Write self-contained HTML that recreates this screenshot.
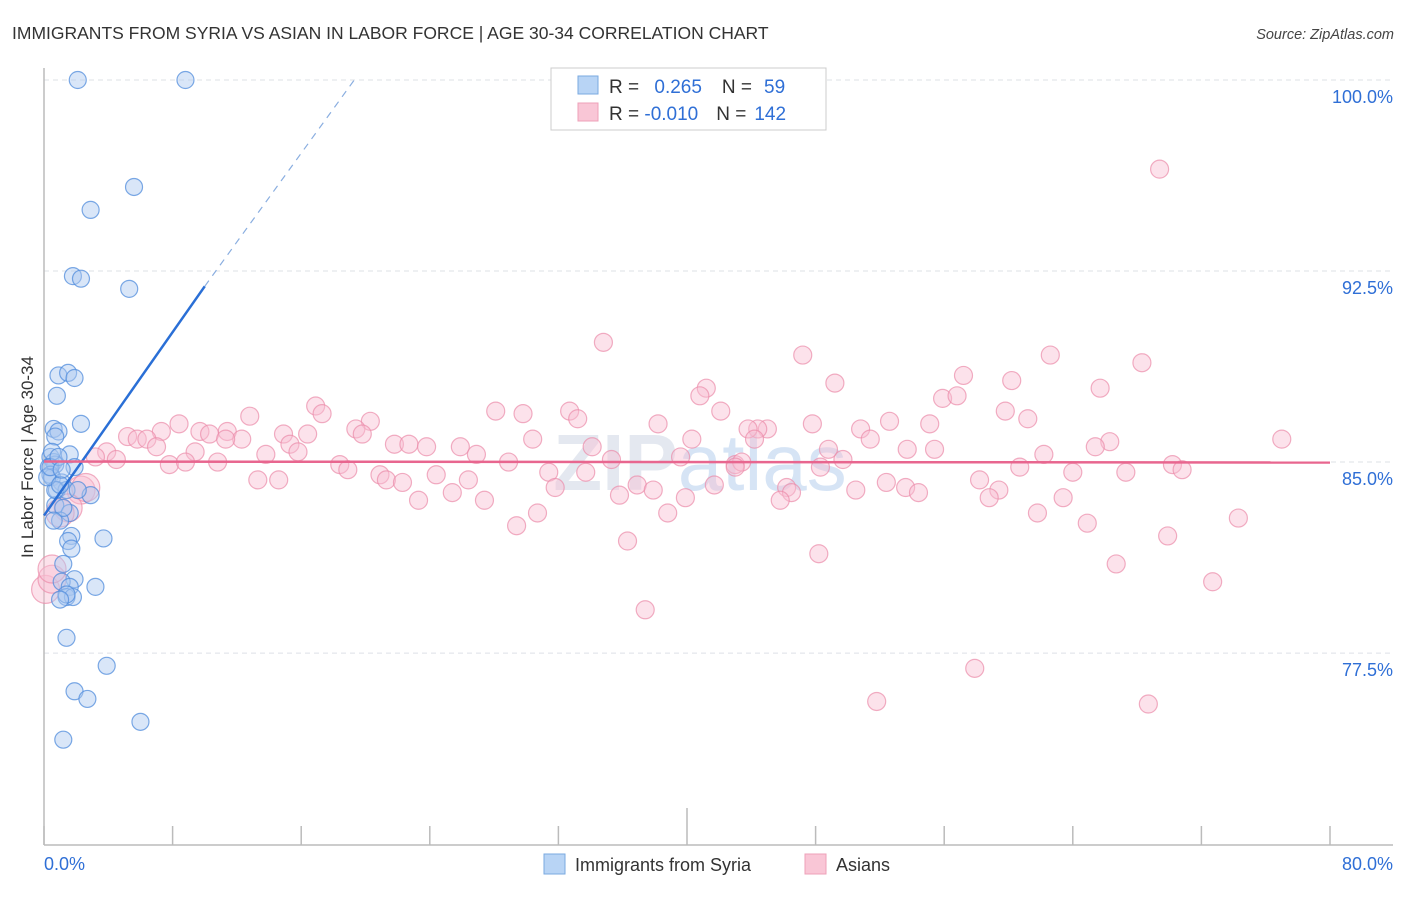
<!DOCTYPE html>
<html><head><meta charset="utf-8"><style>
body{margin:0;background:#fff;font-family:"Liberation Sans",sans-serif}
svg text{font-family:"Liberation Sans",sans-serif}
</style></head><body>
<svg id="chart" width="1406" height="892" viewBox="0 0 1406 892" xmlns="http://www.w3.org/2000/svg">
<text x="12" y="39" font-size="17.5" fill="#333">IMMIGRANTS FROM SYRIA VS ASIAN IN LABOR FORCE | AGE 30-34 CORRELATION CHART</text>
<text x="1394" y="39" font-size="14.5" fill="#444" font-style="italic" text-anchor="end">Source: ZipAtlas.com</text>
<text x="700" y="490" font-size="80" fill="#e4e8f0" text-anchor="middle" font-weight="bold" font-family="Liberation Serif">ZIP<tspan fill="#d6e4f5" font-family="Liberation Sans" font-weight="normal">atlas</tspan></text>
<g id="grid"></g>
<g id="axes"></g>
<g id="pts"></g>
<g id="trend"></g>
<text transform="translate(33,457) rotate(-90)" font-size="17" fill="#333" text-anchor="middle">In Labor Force | Age 30-34</text>
<g>
<rect x="551" y="68" width="275" height="62" fill="#fff" stroke="#ccc"/>
<rect x="578" y="76" width="20" height="18" fill="#b8d4f5" stroke="#7aaae0"/>
<rect x="578" y="103" width="20" height="18" fill="#f9c6d6" stroke="#eea0b8"/>
<text x="609" y="93" font-size="19" fill="#333">R = <tspan fill="#2f6fd6" dx="10">0.265</tspan><tspan dx="20" fill="#333">N =</tspan><tspan dx="12" fill="#2f6fd6">59</tspan></text>
<text x="609" y="120" font-size="19" fill="#333">R = <tspan fill="#2f6fd6">-0.010</tspan><tspan dx="18" fill="#333">N =</tspan><tspan dx="8" fill="#2f6fd6">142</tspan></text>
</g>
<g>
<rect x="544" y="854" width="21" height="20" fill="#b8d4f5" stroke="#7aaae0"/>
<text x="575" y="871" font-size="18" fill="#333">Immigrants from Syria</text>
<rect x="805" y="854" width="21" height="20" fill="#f9c6d6" stroke="#eea0b8"/>
<text x="836" y="871" font-size="18" fill="#333">Asians</text>
</g>
</svg>
<script>
const yTicks=[100,92.5,85,77.5];
const yTickLabels=["100.0%","92.5%","85.0%","77.5%"];
const xTicks=[0,8,16,24,32,40,48,56,64,72,80];
const xEndLabels=["0.0%","80.0%"];
const blueX=[2.1,8.8,5.6,2.9,1.8,2.3,5.3,0.9,1.5,1.9,0.8,2.3,0.6,0.9,0.7,1.6,0.4,0.6,0.7,0.3,0.4,0.5,1.1,1.9,0.8,1.4,2.9,0.7,1.6,1.0,1.7,1.5,3.7,1.2,1.9,1.1,1.6,3.2,1.4,1.8,1.4,3.9,1.9,2.7,6.0,1.2,0.7,0.2,0.5,1.0,1.2,1.4,0.4,0.9,1.1,1.7,0.6,1.0,2.1];
const blueY=[100,100,95.8,94.9,92.3,92.2,91.8,88.4,88.5,88.3,87.6,86.5,86.3,86.2,86.0,85.3,85.2,85.0,84.9,84.8,84.5,84.4,84.2,84.8,83.9,83.9,83.7,83.3,83.0,82.7,82.1,81.9,82.0,81.0,80.4,80.3,80.1,80.1,79.7,79.7,78.1,77.0,76.0,75.7,74.8,74.1,83.9,84.4,85.4,84.1,83.2,79.8,84.8,85.2,84.7,81.6,82.7,79.6,83.9];
const pinkX=[69.4,34.8,47.2,62.6,68.3,49.2,57.2,60.2,41.2,65.7,55.9,56.8,40.8,16.9,28.1,29.8,32.7,42.1,59.8,12.8,17.3,33.2,8.4,38.2,47.8,52.6,61.2,20.3,19.4,45.0,44.4,43.8,50.8,55.1,11.4,9.7,10.3,7.3,5.2,5.8,6.4,7.0,14.9,16.4,19.8,12.3,11.3,51.4,30.4,40.3,44.2,77.0,66.3,15.3,15.8,21.8,22.7,23.8,25.9,26.9,34.1,48.8,53.7,55.4,65.4,62.2,3.9,3.2,4.5,13.8,9.4,10.8,7.8,8.8,18.4,18.9,28.9,35.3,39.6,43.0,43.4,49.7,43.0,20.9,21.3,22.3,24.4,31.4,33.7,48.3,60.7,64.0,67.3,70.2,70.8,13.3,14.6,26.4,25.4,23.3,27.4,31.8,36.9,37.9,35.8,39.9,41.7,46.2,46.5,45.8,50.5,52.4,53.6,54.4,58.2,59.4,58.8,63.4,2.3,2.6,1.5,1.0,29.4,30.7,38.8,61.8,64.9,74.3,36.3,48.2,69.9,66.7,72.7,0.1,0.5,37.4,57.9,51.8,68.7,0.5];
const pinkY=[96.5,89.7,89.2,89.2,88.9,88.1,88.4,88.2,87.9,87.9,87.5,87.6,87.6,87.2,87.0,86.9,87.0,87.0,87.0,86.8,86.9,86.7,86.5,86.5,86.5,86.6,86.7,86.6,86.3,86.3,86.3,86.3,86.3,86.5,86.2,86.2,86.1,86.2,86.0,85.9,85.9,85.6,86.1,86.1,86.1,85.9,85.9,85.9,85.9,85.9,85.9,85.9,85.8,85.7,85.4,85.7,85.7,85.6,85.6,85.3,85.6,85.5,85.5,85.5,85.6,85.3,85.4,85.2,85.1,85.3,85.4,85.0,84.9,85.0,84.9,84.7,85.0,85.1,85.2,84.9,85.0,85.1,84.8,84.5,84.3,84.2,84.5,84.6,84.6,84.8,84.8,84.6,84.6,84.9,84.7,84.3,84.3,84.3,83.8,83.5,83.5,84.0,84.1,83.9,83.7,83.6,84.1,84.0,83.8,83.5,83.9,84.2,84.0,83.8,84.3,83.9,83.6,83.6,83.9,84.0,83.2,83.0,82.5,83.0,83.0,83.0,82.6,82.8,81.9,81.4,82.1,81.0,80.3,80.0,80.4,79.2,76.9,75.6,75.5,80.8];
const blueTrend=[[0,82.9],[10,91.9],[19.3,100]];
const pinkTrend=[[0,85.02],[80,84.98]];

const NS="http://www.w3.org/2000/svg";
const sx=v=>44+v*16.075;
const sy=v=>80+(100-v)*25.47;
function mk(tag,attrs,parent){const e=document.createElementNS(NS,tag);for(const k in attrs)e.setAttribute(k,attrs[k]);document.getElementById(parent).appendChild(e);return e;}
yTicks.forEach((t,i)=>{
  const l=mk('line',{x1:44,x2:1393,y1:sy(t),y2:sy(t),stroke:'#dde0e6','stroke-dasharray':'5,4'},'grid');
  
  
  const tx=mk('text',{x:1393,y:sy(t)+23,'font-size':18,fill:'#2f6fd6','text-anchor':'end'},'grid');
  tx.textContent=yTickLabels[i];
  
  
});
const ax=mk('line',{x1:44,x2:1393,y1:845,y2:845,stroke:'#bbb','stroke-width':1.5},'axes');


const ay=mk('line',{x1:44,x2:44,y1:68,y2:845,stroke:'#bbb','stroke-width':1.5},'axes');


xTicks.forEach((t,i)=>{
  const top=(i===5)?808:826;
  const l=mk('line',{x1:sx(t),x2:sx(t),y1:top,y2:845,stroke:'#bbb','stroke-width':1.5},'axes');
  
  
});
const xl0=mk('text',{x:44,y:870,'font-size':18,fill:'#2f6fd6'},'axes');xl0.textContent=xEndLabels[0];


const xl1=mk('text',{x:1393,y:870,'font-size':18,fill:'#2f6fd6','text-anchor':'end'},'axes');xl1.textContent=xEndLabels[1];



pinkX.forEach((x,i)=>{
  const r=x<3?14:9;
  const c=mk('circle',{cx:sx(x),cy:sy(pinkY[i]),r:r,fill:'rgba(249,190,210,0.45)',stroke:'rgba(235,140,170,0.7)','stroke-width':1.2},'pts');
  
  
});
blueX.forEach((x,i)=>{
  const c=mk('circle',{cx:sx(x),cy:sy(blueY[i]),r:8.5,fill:'rgba(170,200,240,0.45)',stroke:'rgba(80,140,220,0.75)','stroke-width':1.2},'pts');
  
  
});
const bt=mk('line',{x1:sx(blueTrend[0][0]),y1:sy(blueTrend[0][1]),x2:sx(blueTrend[1][0]),y2:sy(blueTrend[1][1]),stroke:'#2a6fd6','stroke-width':2.5},'trend');


const bd=mk('line',{x1:sx(blueTrend[1][0]),y1:sy(blueTrend[1][1]),x2:sx(blueTrend[2][0]),y2:sy(blueTrend[2][1]),stroke:'#8aaee0','stroke-width':1.2,'stroke-dasharray':'7,6'},'trend');


const pt=mk('line',{x1:sx(pinkTrend[0][0]),y1:sy(pinkTrend[0][1]),x2:sx(pinkTrend[1][0]),y2:sy(pinkTrend[1][1]),stroke:'#e8668f','stroke-width':2.5},'trend');


</script>
</body></html>
